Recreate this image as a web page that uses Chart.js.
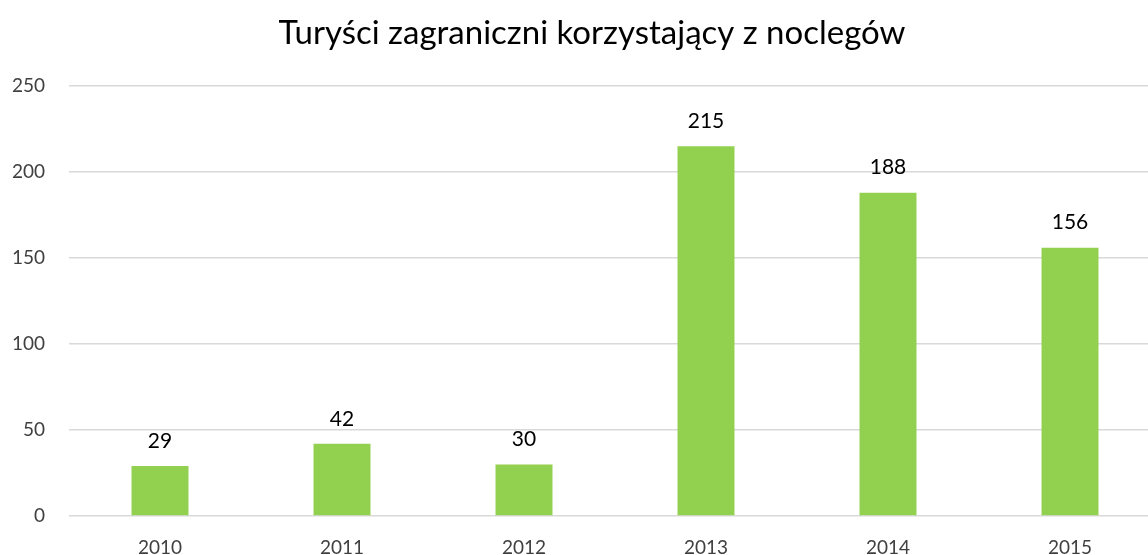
<!DOCTYPE html>
<html>
<head>
<meta charset="utf-8">
<script src="https://cdn.jsdelivr.net/npm/chart.js@4/dist/chart.umd.min.js"></script>
<style>
  html, body { margin: 0; padding: 0; background: #fff; overflow: hidden; }
</style>
</head>
<body>
<canvas id="chart" width="1184" height="555"></canvas>
<script>
// ─── Data ────────────────────────────────────────────────────────
const TITLE = "Turyści zagraniczni korzystający z noclegów";
const years = ["2010", "2011", "2012", "2013", "2014", "2015"];
const tourists = [29, 42, 30, 215, 188, 156];
const yTicks = [0, 50, 100, 150, 200, 250];

const FONT = "Lato, 'Open Sans', sans-serif";

// title centred on the whole canvas (built-in title centres on the padded box)
const centredTitle = {
  id: "centredTitle",
  afterDraw(chart) {
    const ctx = chart.ctx;
    ctx.save();
    ctx.font = "33px " + FONT;
    ctx.fillStyle = "#000";
    ctx.textAlign = "center";
    ctx.textBaseline = "middle";
    ctx.fillText(TITLE, chart.width / 2, 33);
    ctx.restore();
  },
};

// draws value labels above each bar
const valueLabels = {
  id: "valueLabels",
  afterDatasetsDraw(chart) {
    const ctx = chart.ctx;
    const meta = chart.getDatasetMeta(0);
    ctx.save();
    ctx.font = "21px " + FONT;
    ctx.fillStyle = "#000";
    ctx.textAlign = "center";
    ctx.textBaseline = "middle";
    meta.data.forEach((bar, i) => {
      ctx.fillText(String(tourists[i]), bar.x, bar.y - 25);
    });
    ctx.restore();
  },
};

new Chart(document.getElementById("chart"), {
  type: "bar",
  data: {
    labels: years,
    datasets: [{
      data: tourists,
      backgroundColor: "#92d050",
      categoryPercentage: 1,
      barPercentage: 0.313,
    }],
  },
  options: {
    responsive: false,
    animation: false,
    layout: { padding: { left: 0, right: 23, top: 86, bottom: 0 } },
    plugins: {
      legend: { display: false },
      tooltip: { enabled: false },
      title: { display: false },
    },
    scales: {
      x: {
        grid: { display: false, drawTicks: false },
        border: { display: false },
        ticks: { color: "#404040", font: { family: FONT, size: 19 }, padding: 20 },
        afterFit(scale) { scale.height = 39; },
      },
      y: {
        min: 0,
        max: 250,
        afterBuildTicks(scale) { scale.ticks = yTicks.map(v => ({ value: v })); },
        grid: { color: "#d9d9d9", lineWidth: 1.5, drawTicks: false },
        border: { display: false },
        ticks: { color: "#404040", font: { family: FONT, size: 19 }, padding: 24 },
        afterFit(scale) { scale.width = 69; },
      },
    },
  },
  plugins: [valueLabels, centredTitle],
});
</script>
</body>
</html>
